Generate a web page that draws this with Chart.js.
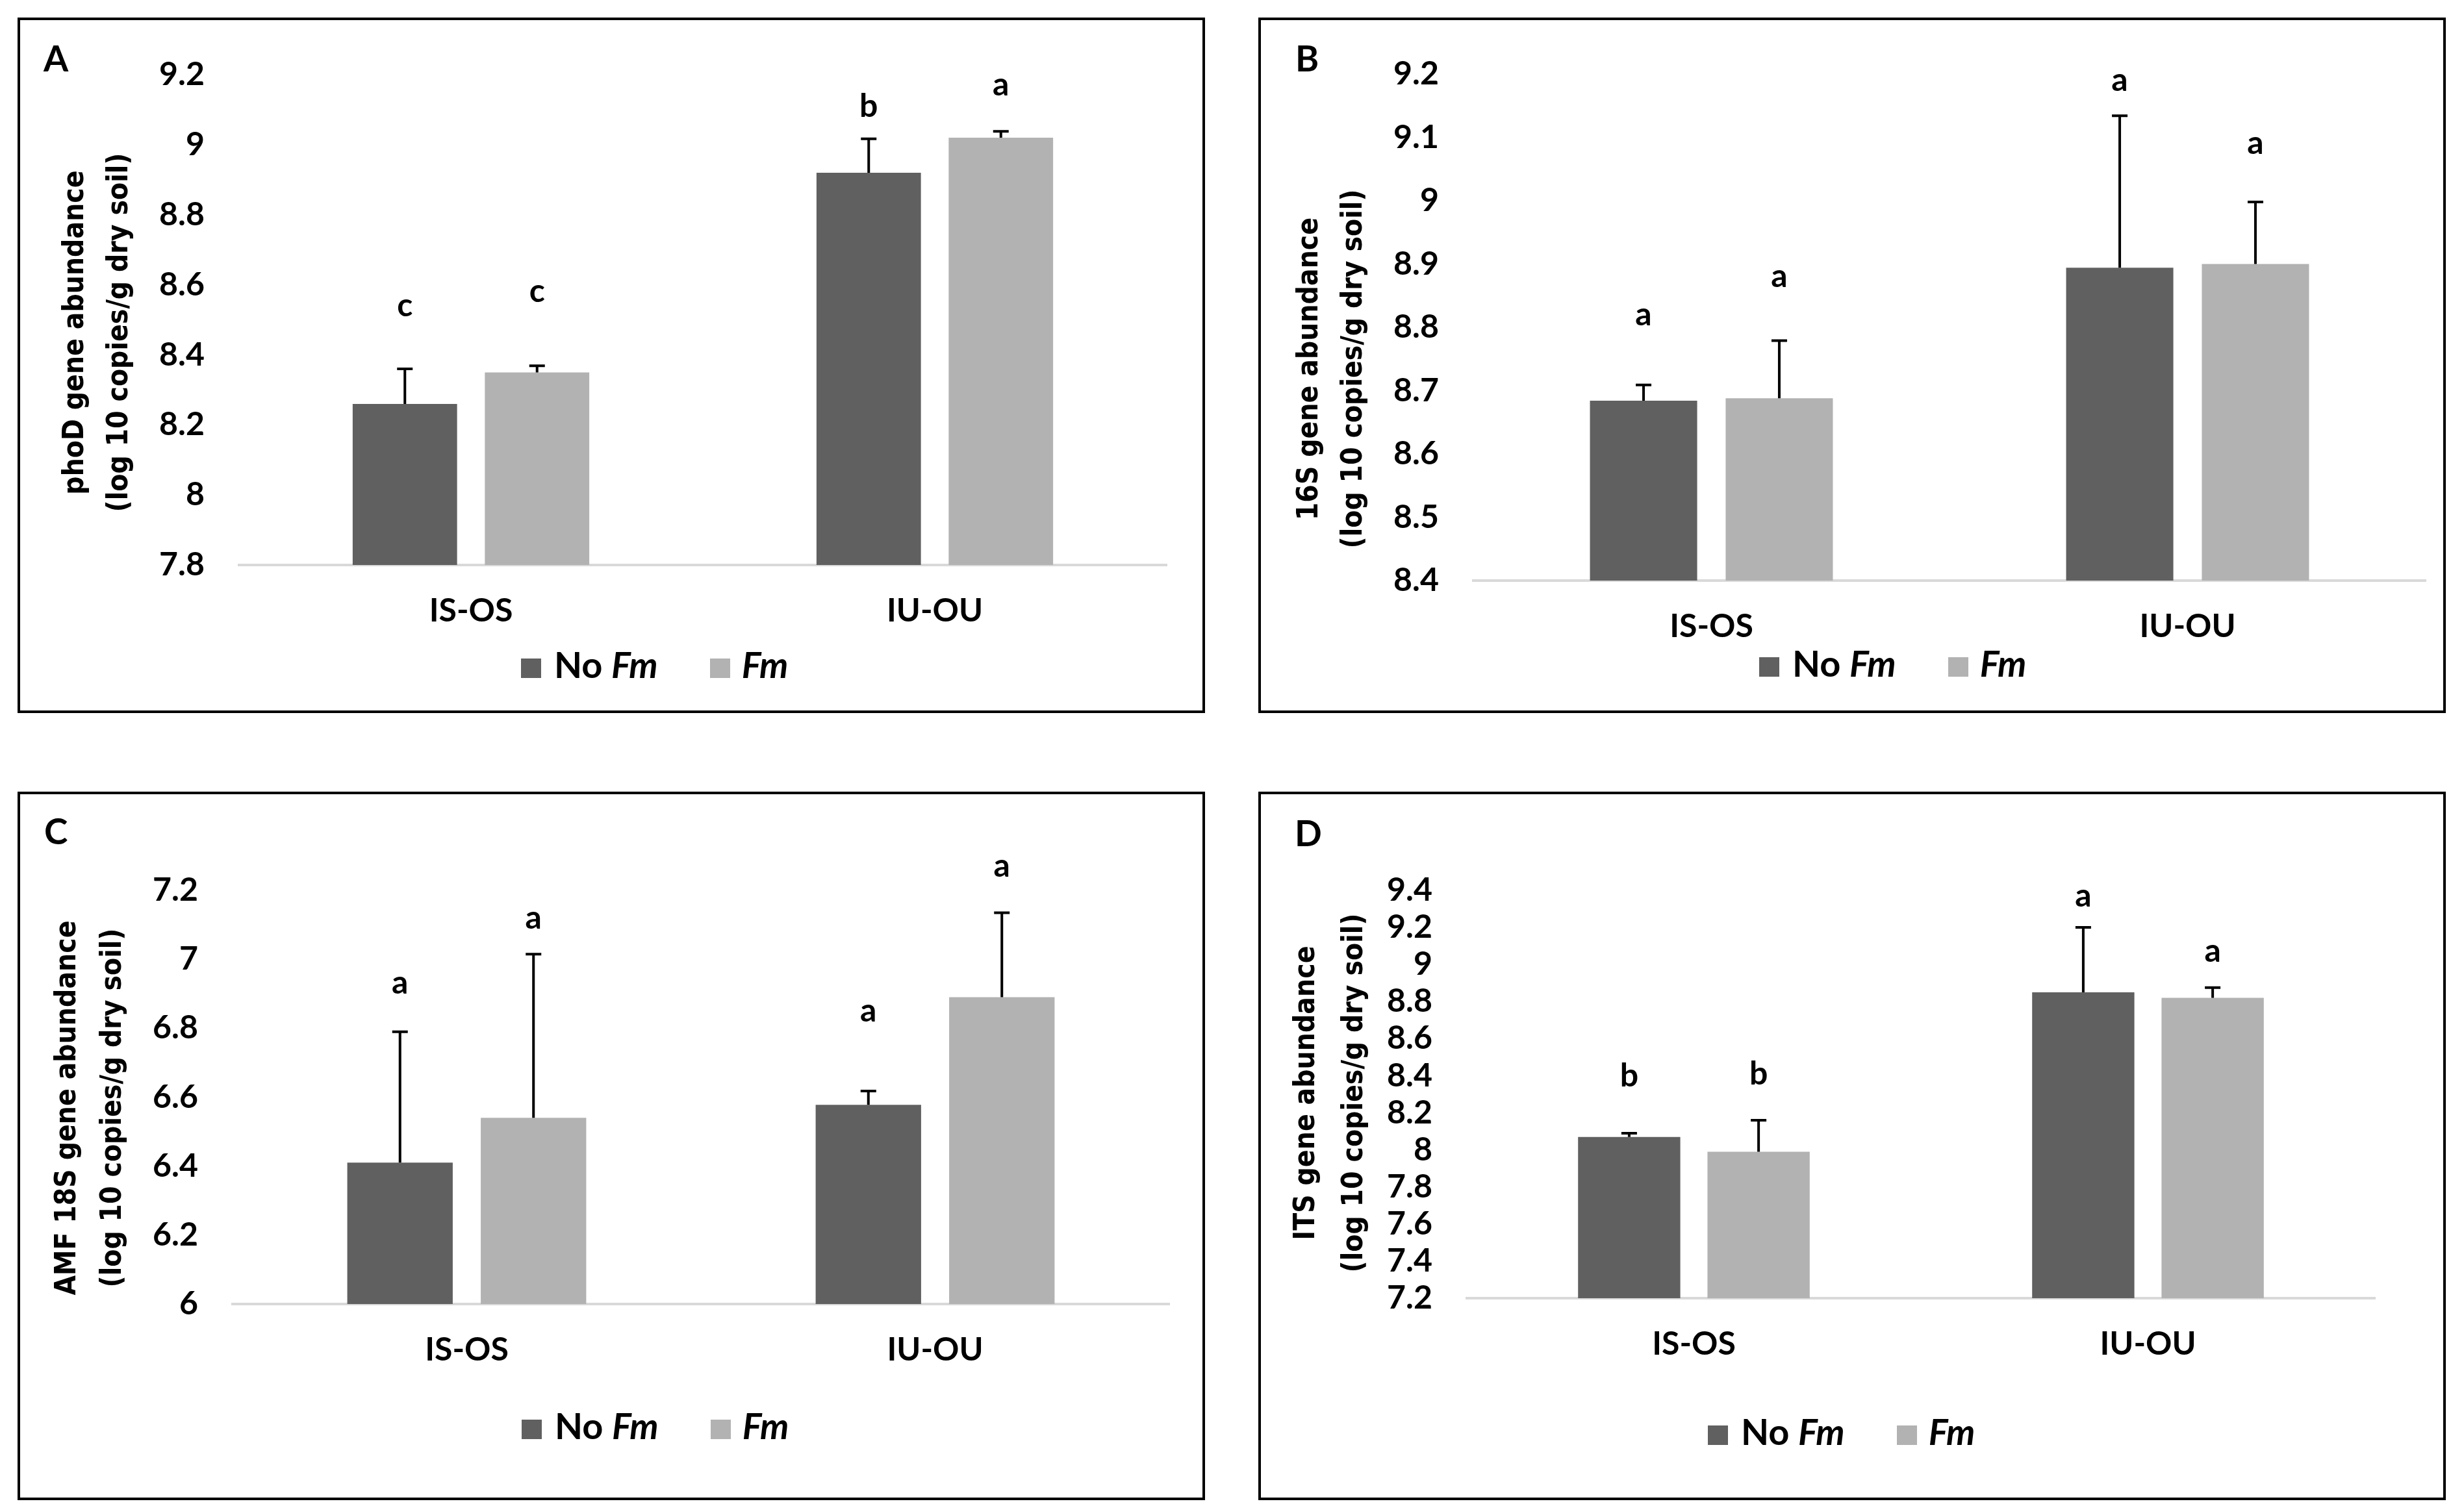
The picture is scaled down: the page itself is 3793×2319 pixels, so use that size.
<!DOCTYPE html>
<html>
<head>
<meta charset="utf-8">
<script src="https://cdn.jsdelivr.net/npm/chart.js@4.4.1/dist/chart.umd.min.js"></script>
<style>
  html, body { margin: 0; padding: 0; background: #fff; }
  body { width: 3793px; height: 2319px; position: relative; overflow: hidden; font-family: Lato, sans-serif; }
  .panel { position: absolute; border: 4px solid #000; box-sizing: border-box; }
  .panel canvas { position: absolute; left: 0; top: 0; }
  .tag { position: absolute; font: bold 55px Lato; line-height: 1; color: #000; }
  .legend { position: absolute; font: bold 56px Lato; line-height: 1; color: #000; white-space: nowrap; }
  .legend .sw { display: inline-block; width: 31px; height: 30px; margin-right: 20px; }
  .legend i { font-style: italic; }
</style>
</head>
<body>
<script>
// shared
const categories = ['IS-OS', 'IU-OU'];
const seriesNames = ['No Fm', 'Fm'];

// A - phoD
const phoD_noFm = [8.26, 8.92];
const phoD_fm = [8.35, 9.02];
const phoD_noFmErr = [0.10, 0.097];
const phoD_fmErr = [0.019, 0.018];
const phoD_noFmLetters = ['c', 'b'];
const phoD_fmLetters = ['c', 'a'];
const phoD_noFmLetterAt = [8.54, 9.11];
const phoD_fmLetterAt = [8.58, 9.17];
const phoD_ticks = [7.8, 9.2, 0.2];

// B - 16S
const s16_noFm = [8.684, 8.894];
const s16_fm = [8.688, 8.900];
const s16_noFmErr = [0.025, 0.24];
const s16_fmErr = [0.091, 0.098];
const s16_noFmLetters = ['a', 'a'];
const s16_fmLetters = ['a', 'a'];
const s16_noFmLetterAt = [8.82, 9.19];
const s16_fmLetterAt = [8.88, 9.09];
const s16_ticks = [8.4, 9.2, 0.1];

// C - AMF 18S
const amf_noFm = [6.41, 6.578];
const amf_fm = [6.54, 6.89];
const amf_noFmErr = [0.38, 0.04];
const amf_fmErr = [0.475, 0.245];
const amf_noFmLetters = ['a', 'a'];
const amf_fmLetters = ['a', 'a'];
const amf_noFmLetterAt = [6.93, 6.85];
const amf_fmLetterAt = [7.12, 7.27];
const amf_ticks = [6, 7.2, 0.2];

// D - ITS
const its_noFm = [8.07, 8.85];
const its_fm = [7.99, 8.82];
const its_noFmErr = [0.02, 0.35];
const its_fmErr = [0.17, 0.055];
const its_noFmLetters = ['b', 'a'];
const its_fmLetters = ['b', 'a'];
const its_noFmLetterAt = [8.40, 9.37];
const its_fmLetterAt = [8.41, 9.07];
const its_ticks = [7.2, 9.4, 0.2];

const DARK = '#606060';
const LIGHT = '#b2b2b2';
const XH = 150;

// layout: box = page rect of the framed panel, plot = plot area inside canvas,
// titleX = centres of the two y-title lines, titleY = centre along the axis
const panels = [
  { tag: 'A', tagPos: [67, 62], box: [27, 27, 1828, 1071], plot: [337, 84, 1765, 839],
    titleX: [86, 154], titleY: 481, legend: [802, 995],
    title: ['phoD gene abundance', '(log 10 copies/g dry soil)'],
    noFm: phoD_noFm, fm: phoD_fm, noFmErr: phoD_noFmErr, fmErr: phoD_fmErr,
    noFmLetters: phoD_noFmLetters, fmLetters: phoD_fmLetters,
    noFmLetterAt: phoD_noFmLetterAt, fmLetterAt: phoD_fmLetterAt, ticks: phoD_ticks },
  { tag: 'B', tagPos: [1994, 62], box: [1937, 27, 1828, 1071], plot: [327, 80, 1793, 863],
    titleX: [76, 144], titleY: 537, legend: [2708, 993],
    title: ['16S gene abundance', '(log 10 copies/g dry soil)'],
    noFm: s16_noFm, fm: s16_fm, noFmErr: s16_noFmErr, fmErr: s16_fmErr,
    noFmLetters: s16_noFmLetters, fmLetters: s16_fmLetters,
    noFmLetterAt: s16_noFmLetterAt, fmLetterAt: s16_fmLetterAt, ticks: s16_ticks },
  { tag: 'C', tagPos: [68, 1252], box: [27, 1219, 1828, 1091], plot: [327, 148, 1769, 785],
    titleX: [74, 144], titleY: 483, legend: [803, 2167],
    title: ['AMF 18S gene abundance', '(log 10 copies/g dry soil)'],
    noFm: amf_noFm, fm: amf_fm, noFmErr: amf_noFmErr, fmErr: amf_fmErr,
    noFmLetters: amf_noFmLetters, fmLetters: amf_fmLetters,
    noFmLetterAt: amf_noFmLetterAt, fmLetterAt: amf_fmLetterAt, ticks: amf_ticks },
  { tag: 'D', tagPos: [1993, 1255], box: [1937, 1219, 1828, 1091], plot: [317, 148, 1715, 776],
    titleX: [71, 145], titleY: 460, legend: [2629, 2176],
    title: ['ITS gene abundance', '(log 10 copies/g dry soil)'],
    noFm: its_noFm, fm: its_fm, noFmErr: its_noFmErr, fmErr: its_fmErr,
    noFmLetters: its_noFmLetters, fmLetters: its_fmLetters,
    noFmLetterAt: its_noFmLetterAt, fmLetterAt: its_fmLetterAt, ticks: its_ticks }
];

// error bars (upper only) and significance letters
const extras = {
  id: 'extras',
  afterDatasetsDraw(chart) {
    const ctx = chart.ctx, y = chart.scales.y;
    chart.data.datasets.forEach((ds, i) => {
      chart.getDatasetMeta(i).data.forEach((bar, j) => {
        const top = y.getPixelForValue(ds.data[j] + ds.err[j]);
        ctx.save();
        ctx.strokeStyle = '#000';
        ctx.lineWidth = 4;
        ctx.beginPath();
        ctx.moveTo(bar.x, bar.y);
        ctx.lineTo(bar.x, top);
        ctx.moveTo(bar.x - 12, top);
        ctx.lineTo(bar.x + 12, top);
        ctx.stroke();
        ctx.font = 'bold 50px Lato';
        ctx.fillStyle = '#000';
        ctx.textAlign = 'center';
        ctx.textBaseline = 'middle';
        ctx.fillText(ds.letters[j], bar.x, y.getPixelForValue(ds.letterAt[j]));
        ctx.restore();
      });
    });
  }
};

// rotated two-line y-axis title
const yTitle = {
  id: 'yTitle',
  afterDraw(chart, args, opts) {
    const ctx = chart.ctx;
    ctx.save();
    ctx.font = 'bold 44px "DejaVu Sans Condensed", "DejaVu Sans", sans-serif';
    ctx.fillStyle = '#000';
    ctx.textAlign = 'center';
    ctx.textBaseline = 'middle';
    opts.lines.forEach((line, k) => {
      ctx.save();
      ctx.translate(opts.x[k], opts.y);
      ctx.rotate(-Math.PI / 2);
      ctx.fillText(line, 0, 0);
      ctx.restore();
    });
    ctx.restore();
  }
};

function buildPanel(p) {
  const box = document.createElement('div');
  box.className = 'panel';
  box.style.left = p.box[0] + 'px';
  box.style.top = p.box[1] + 'px';
  box.style.width = p.box[2] + 'px';
  box.style.height = p.box[3] + 'px';
  document.body.appendChild(box);

  const cw = p.box[2] - 8, ch = p.box[3] - 8;
  const canvas = document.createElement('canvas');
  canvas.width = cw;
  canvas.height = ch;
  canvas.style.width = cw + 'px';
  canvas.style.height = ch + 'px';
  box.appendChild(canvas);

  const tag = document.createElement('div');
  tag.className = 'tag';
  tag.textContent = p.tag;
  tag.style.left = p.tagPos[0] + 'px';
  tag.style.top = p.tagPos[1] + 'px';
  document.body.appendChild(tag);

  const lg = document.createElement('div');
  lg.className = 'legend';
  lg.style.left = p.legend[0] + 'px';
  lg.style.top = p.legend[1] + 'px';
  lg.innerHTML = '<span class="sw" style="background:' + DARK + '"></span>No <i>Fm</i>' +
    '<span class="sw" style="background:' + LIGHT + ';margin-left:80px;margin-right:18px"></span><i>Fm</i>';
  document.body.appendChild(lg);

  const [pl, pt, pr, pb] = p.plot;
  const tickFont = { family: 'Lato', size: 50, weight: 'bold' };

  new Chart(canvas, {
    type: 'bar',
    data: {
      labels: categories,
      datasets: [
        { label: seriesNames[0], data: p.noFm, backgroundColor: DARK,
          err: p.noFmErr, letters: p.noFmLetters, letterAt: p.noFmLetterAt },
        { label: seriesNames[1], data: p.fm, backgroundColor: LIGHT,
          err: p.fmErr, letters: p.fmLetters, letterAt: p.fmLetterAt }
      ]
    },
    options: {
      responsive: false,
      devicePixelRatio: 1,
      animation: false,
      layout: { padding: { left: 0, top: pt, right: cw - pr, bottom: ch - pb - XH } },
      datasets: { bar: { categoryPercentage: 0.57, barPercentage: 0.79 } },
      plugins: {
        legend: { display: false },
        tooltip: { enabled: false },
        yTitle: { lines: p.title, x: p.titleX, y: p.titleY }
      },
      scales: {
        x: {
          grid: { display: false, drawTicks: false },
          border: { display: true, color: '#d9d9d9', width: 4 },
          ticks: { color: '#000', font: tickFont, padding: 41 },
          afterFit: s => { s.height = XH; }
        },
        y: {
          min: p.ticks[0],
          max: p.ticks[1],
          grid: { display: false, drawTicks: false },
          border: { display: false },
          ticks: {
            stepSize: p.ticks[2],
            autoSkip: false,
            color: '#000',
            font: tickFont,
            padding: 53,
            callback: v => String(Math.round(v * 10) / 10)
          },
          afterFit: s => { s.width = pl; }
        }
      }
    },
    plugins: [extras, yTitle]
  });
}

panels.forEach(buildPanel);
</script>
</body>
</html>
